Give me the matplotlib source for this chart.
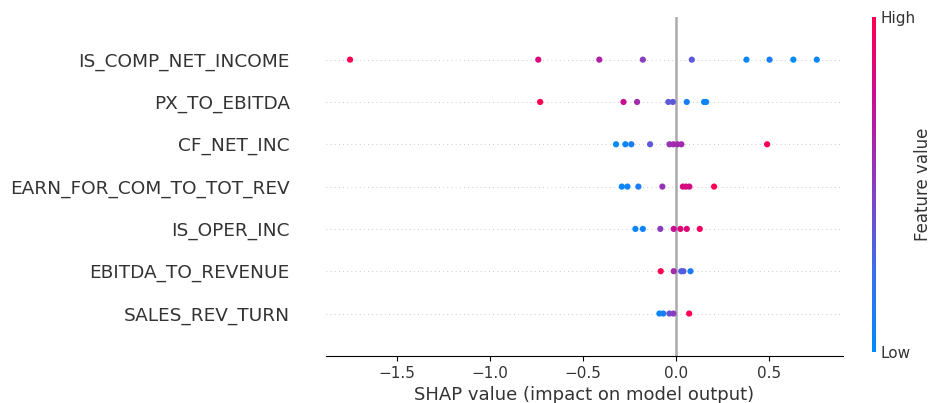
import numpy as np
import matplotlib.pyplot as plt
from matplotlib.colors import LinearSegmentedColormap

# features, top row first
features = ["IS_COMP_NET_INCOME", "PX_TO_EBITDA", "CF_NET_INC",
            "EARN_FOR_COM_TO_TOT_REV", "IS_OPER_INC", "EBITDA_TO_REVENUE",
            "SALES_REV_TURN"]

# shap values per feature
shap_vals = [
    [-1.75, -0.738, -0.41, -0.176, 0.087, 0.381, 0.505, 0.633, 0.759],
    [-0.728, -0.28, -0.207, -0.039, -0.015, 0.06, 0.153, 0.164],
    [-0.32, -0.27, -0.238, -0.137, -0.033, -0.012, 0.01, 0.031, 0.492],
    [-0.289, -0.259, -0.2, -0.071, 0.039, 0.056, 0.074, 0.207],
    [-0.216, -0.176, -0.082, -0.01, 0.026, 0.06, 0.13],
    [-0.08, -0.01, 0.03, 0.042, 0.08],
    [-0.087, -0.066, -0.033, -0.012, 0.073],
]

# normalised feature values (0 = low, 1 = high)
feat_vals = [
    [1.0, 0.85, 0.65, 0.5, 0.35, 0.05, 0.1, 0.0, 0.05],
    [1.0, 0.75, 0.6, 0.35, 0.35, 0.1, 0.05, 0.05],
    [0.0, 0.05, 0.1, 0.35, 0.55, 0.6, 0.6, 0.6, 1.0],
    [0.05, 0.05, 0.1, 0.55, 0.8, 0.85, 0.8, 1.0],
    [0.05, 0.05, 0.5, 0.75, 0.85, 0.85, 0.95],
    [1.0, 0.6, 0.3, 0.35, 0.1],
    [0.05, 0.1, 0.4, 0.5, 1.0],
]

red_blue = LinearSegmentedColormap.from_list("red_blue", [
    (0.0, (0.0, 0.545, 0.984)),
    (0.25, (0.25, 0.42, 0.93)),
    (0.5, (0.54, 0.24, 0.75)),
    (0.75, (0.78, 0.06, 0.57)),
    (1.0, (1.0, 0.0, 0.32)),
])

txt = "#333333"

fig = plt.figure(figsize=(9.31, 4.03), dpi=100)
ax = fig.add_axes([0.350, 0.117, 0.5555, 0.84])

n = len(features)
for i, name in enumerate(features):
    pos = n - 1 - i
    ax.axhline(pos, color="#bbbbbb", lw=0.6, dashes=(1, 4), zorder=-1)
    ax.scatter(shap_vals[i], np.full(len(shap_vals[i]), pos), c=feat_vals[i],
               cmap=red_blue, vmin=0, vmax=1, s=20, linewidth=0, zorder=3)

ax.axvline(0, color="#aaaaaa", lw=1.8, zorder=-1)

ax.set_yticks(range(n))
ax.set_yticklabels(features[::-1], fontsize=13.3, color=txt)
ax.set_ylim(-1, n)
ax.set_xlim(-1.88, 0.9)
ax.set_xticks([-1.5, -1.0, -0.5, 0.0, 0.5])
ax.tick_params(axis="y", length=0, pad=26)
ax.tick_params(axis="x", labelsize=11, labelcolor=txt)
ax.set_xlabel("SHAP value (impact on model output)", fontsize=13, color=txt)
for s in ["top", "right", "left"]:
    ax.spines[s].set_visible(False)

# colour bar for feature value
cax = fig.add_axes([0.9366, 0.127, 0.0043, 0.831])
sm = plt.cm.ScalarMappable(cmap=red_blue, norm=plt.Normalize(0, 1))
cb = fig.colorbar(sm, cax=cax, ticks=[0, 1])
cb.set_ticklabels(["Low", "High"])
cb.ax.tick_params(labelsize=11, length=0, labelcolor=txt)
cb.outline.set_visible(False)
cb.set_label("Feature value", size=12, labelpad=-1.5, color=txt)

fig.savefig("out.png", dpi=100)
